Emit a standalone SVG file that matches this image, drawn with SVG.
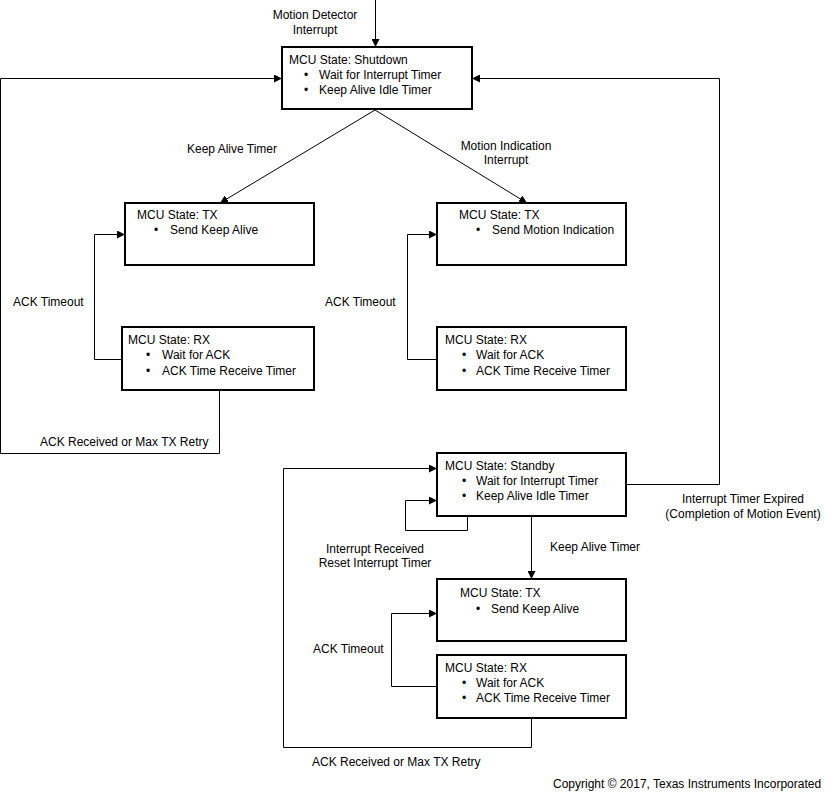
<svg xmlns="http://www.w3.org/2000/svg" width="826" height="792" viewBox="0 0 826 792">
<style>
text{font-family:"Liberation Sans",Arial,sans-serif;font-size:12px;fill:#000}
.box{fill:#fff;stroke:#000;stroke-width:2}
.c{fill:none;stroke:#000;stroke-width:1}
.m{text-anchor:middle}
</style>
<defs>
<marker id="ah" markerUnits="userSpaceOnUse" markerWidth="9" markerHeight="8" refX="8" refY="4" orient="auto">
<path d="M0,0 L8,4 L0,8 z" fill="#000"/>
</marker>
</defs>
<rect width="826" height="792" fill="#fff"/>
<g id="connectors">
<path class="c" d="M375.5,0 V47" marker-end="url(#ah)"/>
<path class="c" d="M219.5,391 V453.5 H0.5 V78.5 H282" marker-end="url(#ah)"/>
<path class="c" d="M627,484.5 H719.5 V78.5 H472" marker-end="url(#ah)"/>
<path class="c" d="M375,110 L220,203" marker-end="url(#ah)"/>
<path class="c" d="M375,110 L527,203" marker-end="url(#ah)"/>
<path class="c" d="M122,359.5 H94.5 V234.5 H125" marker-end="url(#ah)"/>
<path class="c" d="M437,359.5 H407.5 V234.5 H437" marker-end="url(#ah)"/>
<path class="c" d="M467.5,517 V530.5 H405.5 V500.5 H437" marker-end="url(#ah)"/>
<path class="c" d="M531.5,719 V747.5 H283.5 V468.5 H437" marker-end="url(#ah)"/>
<path class="c" d="M531.5,517 V579" marker-end="url(#ah)"/>
<path class="c" d="M437,686.5 H391.5 V613.5 H437" marker-end="url(#ah)"/>
</g>
<g id="labels">
<text class="m" x="315" y="19">Motion Detector</text>
<text class="m" x="315" y="34">Interrupt</text>
<text class="m" x="232" y="153">Keep Alive Timer</text>
<text class="m" x="506" y="150">Motion Indication</text>
<text class="m" x="506" y="164">Interrupt</text>
<text x="13" y="306">ACK Timeout</text>
<text x="40" y="446">ACK Received or Max TX Retry</text>
<text x="325" y="306">ACK Timeout</text>
<text class="m" x="375" y="553">Interrupt Received</text>
<text class="m" x="375" y="567">Reset Interrupt Timer</text>
<text x="550" y="551">Keep Alive Timer</text>
<text class="m" x="743" y="503">Interrupt Timer Expired</text>
<text class="m" x="743" y="518">(Completion of Motion Event)</text>
<text x="313" y="653">ACK Timeout</text>
<text x="312" y="766">ACK Received or Max TX Retry</text>
<text x="553" y="788">Copyright © 2017, Texas Instruments Incorporated</text>
</g>
<g id="shutdown">
<rect class="box" x="282" y="47" width="190" height="62"/>
<text x="289" y="64">MCU State: Shutdown</text>
<text x="304" y="79">•</text><text x="319" y="79">Wait for Interrupt Timer</text>
<text x="304" y="94">•</text><text x="319" y="94">Keep Alive Idle Timer</text>
</g>
<g id="tx-keepalive">
<rect class="box" x="125" y="203" width="189" height="62"/>
<text x="137" y="219">MCU State: TX</text>
<text x="154" y="234">•</text><text x="170" y="234">Send Keep Alive</text>
</g>
<g id="rx-keepalive">
<rect class="box" x="122" y="327" width="192" height="63"/>
<text x="128" y="344">MCU State: RX</text>
<text x="146" y="359">•</text><text x="162" y="359">Wait for ACK</text>
<text x="146" y="375">•</text><text x="162" y="375">ACK Time Receive Timer</text>
</g>
<g id="tx-motion">
<rect class="box" x="437" y="203" width="189" height="62"/>
<text x="459" y="219">MCU State: TX</text>
<text x="476" y="234">•</text><text x="492" y="234">Send Motion Indication</text>
</g>
<g id="rx-motion">
<rect class="box" x="437" y="327" width="189" height="63"/>
<text x="445" y="344">MCU State: RX</text>
<text x="462" y="359">•</text><text x="476" y="359">Wait for ACK</text>
<text x="462" y="375">•</text><text x="476" y="375">ACK Time Receive Timer</text>
</g>
<g id="standby">
<rect class="box" x="437" y="453" width="189" height="63"/>
<text x="445" y="470">MCU State: Standby</text>
<text x="462" y="485">•</text><text x="476" y="485">Wait for Interrupt Timer</text>
<text x="462" y="500">•</text><text x="476" y="500">Keep Alive Idle Timer</text>
</g>
<g id="tx-standby">
<rect class="box" x="437" y="579" width="189" height="62"/>
<text x="460" y="597">MCU State: TX</text>
<text x="476" y="613">•</text><text x="491" y="613">Send Keep Alive</text>
</g>
<g id="rx-standby">
<rect class="box" x="437" y="655" width="189" height="63"/>
<text x="445" y="672">MCU State: RX</text>
<text x="462" y="687">•</text><text x="476" y="687">Wait for ACK</text>
<text x="462" y="702">•</text><text x="476" y="702">ACK Time Receive Timer</text>
</g>
</svg>
